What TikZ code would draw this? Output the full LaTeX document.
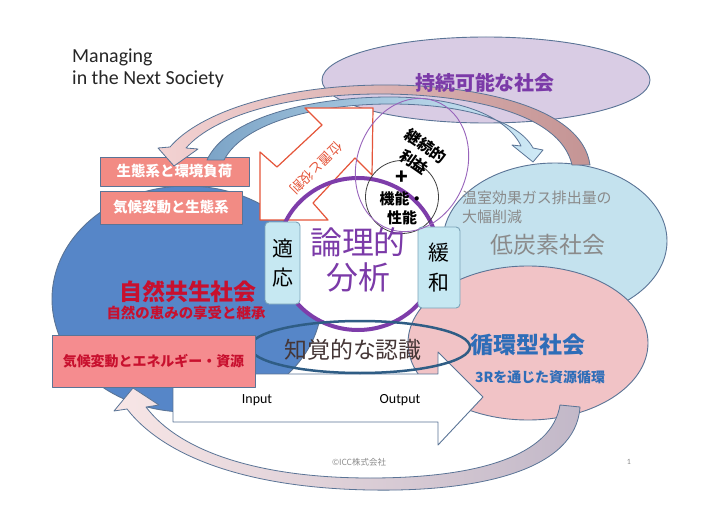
\documentclass[tikz,border=0pt]{standalone}
\usepackage{fontspec}
\setmainfont{Carlito}
\newfontfamily\jp{Noto Sans CJK JP}
\usetikzlibrary{shapes.geometric}
\definecolor{purpfill}{HTML}{D9CCE4}
\definecolor{edgeblue}{HTML}{5A7496}
\definecolor{natblue}{HTML}{5686C8}
\definecolor{lowcarb}{HTML}{C4E2EE}
\definecolor{recyc}{HTML}{F1C3C6}
\definecolor{salmon}{HTML}{F28B84}
\definecolor{boxthree}{HTML}{F58C8F}
\definecolor{deepred}{HTML}{C8102E}
\definecolor{purptext}{HTML}{7B3AA8}
\definecolor{recyctext}{HTML}{2E6DB8}
\definecolor{graytext}{HTML}{8A8A8A}
\definecolor{adapt}{HTML}{C6E8F2}
\definecolor{adaptedge}{HTML}{7BA3B8}
\definecolor{arrowred}{HTML}{E5553A}
\definecolor{circpurp}{HTML}{7E3DAA}
\definecolor{perceive}{HTML}{2F5D85}
\definecolor{pinkA}{HTML}{F3D2D2}
\definecolor{pinkB}{HTML}{C49494}
\definecolor{blueA}{HTML}{7CA4C7}
\definecolor{blueB}{HTML}{CFEAF6}
\definecolor{botA}{HTML}{F8E6E6}
\definecolor{botB}{HTML}{C2B8C8}
\definecolor{darktext}{HTML}{453636}
\begin{document}
\begin{tikzpicture}[x=1bp,y=-1bp,line join=round,
  soc/.style={ellipse,draw=edgeblue,line width=0.9bp,inner sep=0},
  salbox/.style={draw=edgeblue,line width=0.8bp,fill=salmon,inner sep=0,
     text=white,font=\jp\bfseries\fontsize{14.5}{16}\selectfont},
  tagbox/.style={draw=adaptedge,line width=0.9bp,fill=adapt,rounded corners=4bp,
     inner sep=0,align=center,font=\jp\fontsize{21}{30}\selectfont},
  band/.style={draw=edgeblue,line width=0.8bp},
  jp/.style={inner sep=0,font=\jp\fontsize{#1}{#1}\selectfont},
  jpb/.style={inner sep=0,font=\jp\bfseries\fontsize{#1}{#1}\selectfont},
  lat/.style={inner sep=0,font=\fontsize{#1}{#1}\selectfont}]
\useasboundingbox (0,0) rectangle (720,507);
\fill[white] (0,0) rectangle (720,507);

% title
\node[anchor=north west,align=left,inner sep=0,font=\fontsize{20}{21.5}\selectfont,text=black!85]
  (title) at (72,49) {Managing\\in the Next Society};

% sustainable society ellipse
\node[soc,fill=purpfill,minimum width=328bp,minimum height=86bp] (sust) at (486,80) {};

% main society ellipses
\node[soc,fill=natblue,minimum width=270bp,minimum height=226bp] (nat) at (187,299) {};
\node[soc,fill=lowcarb,minimum width=224bp,minimum height=156bp] (lowc) at (555,241) {};
\node[soc,fill=recyc,minimum width=240bp,minimum height=154bp] (recy) at (528,343) {};

% bottom curved arrow
\path[band,left color=botA,right color=botB]
  (580,407) .. controls (576,470) and (480,492) .. (370,490)
  .. controls (250,488) and (165,458) .. (127,409)
  -- (114,411) -- (133,388) -- (159,405) -- (146,407)
  .. controls (180,452) and (260,478) .. (370,478)
  .. controls (480,478) and (552,455) .. (560,405) -- cycle;

% upper pink boxes
\node[salbox,minimum width=149bp,minimum height=29bp] (eco) at (174.5,171.5) {生態系と環境負荷};
\node[salbox,minimum width=142bp,minimum height=33bp] (cce) at (171,207.5) {気候変動と生態系};

% top curved arrows
\path[band,left color=pinkA,right color=pinkB]
  (590,165) .. controls (582,105) and (470,84) .. (380,85)
  .. controls (280,86) and (200,112) .. (170,147)
  -- (158,148) -- (174,166) -- (198,149) -- (186,148)
  .. controls (215,115) and (290,94) .. (380,94)
  .. controls (465,94) and (560,112) .. (572,165) -- cycle;
\path[band,left color=blueA,right color=blueB]
  (207,160) .. controls (226,118) and (310,97) .. (390,97)
  .. controls (462,97) and (508,118) .. (521,146)
  -- (512,145) -- (533,162) -- (543,150) -- (533,148)
  .. controls (518,120) and (462,104) .. (390,104)
  .. controls (318,104) and (244,122) .. (224,160) -- cycle;

% central white circle
\node[ellipse,fill=white,minimum width=160bp,minimum height=152bp] (logicbg) at (358,254) {};

% red notched arrow
\draw[arrowred,line width=1.2bp,fill=white]
  (260,220) -- (260,152) -- (277,167) -- (322,125) -- (305,108) -- (373,108)
  -- (372,175) -- (355,158) -- (313,203) -- (328,220) -- cycle;
\node[jp=13.5,text=arrowred,rotate=225] (role) at (316,168) {位置と役割};

% purple circle stroke
\node[ellipse,draw=circpurp,line width=4bp,minimum width=160bp,minimum height=152bp] (logic) at (358,254) {};

% function circle
\node[circle,draw=black!75,line width=0.8bp,minimum size=73bp] (func) at (402,197) {};

% adaptation / mitigation boxes
\node[tagbox,minimum width=35bp,minimum height=82bp] (adp) at (282.5,263) {適\\応};
\node[tagbox,minimum width=42bp,minimum height=81bp] (mit) at (439,267.5) {緩\\和};

% input/output arrow
\draw[edgeblue,line width=0.9bp,fill=white] (173,374) -- (438,374) -- (438,352) -- (483,397)
  -- (438,445) -- (438,422) -- (173,422) -- cycle;
\node[lat=14] (in) at (257,400) {Input};
\node[lat=14] (out) at (400,400) {Output};

% perception ellipse
\node[ellipse,draw=perceive,line width=2.5bp,minimum width=220bp,minimum height=52bp] (perc) at (360,347) {};

% lower pink box
\node[draw=edgeblue,line width=0.8bp,fill=boxthree,inner sep=0,minimum width=203bp,minimum height=52bp,
  text=deepred,font=\jp\bfseries\fontsize{14}{16}\selectfont] (clim) at (153.5,361) {気候変動とエネルギー・資源};

% benefit ellipse
\node[ellipse,draw=circpurp!80,line width=0.9bp,minimum width=110bp,minimum height=136bp,rotate=-20] (benefit) at (412,165) {};

% texts
\node[jpb=20,text=purptext] (sustt) at (485,83) {持続可能な社会};
\node[rotate=-35,align=center,inner sep=0,font=\jp\bfseries\fontsize{15.5}{20}\selectfont] (bent) at (420,154) {継続的\\利益};
\node[inner sep=0,align=center,font=\jp\bfseries\fontsize{15}{19.5}\selectfont] (funct) at (402,198) {{\fontsize{21}{19.5}\selectfont +}\\機能・\\性能};
\node[inner sep=0,align=center,text=purptext,font=\jp\fontsize{32}{35}\selectfont] (logict) at (358,260) {論理的\\分析};
\node[jp=23,text=darktext] (perct) at (353,350) {知覚的な認識};
\node[jpb=23,text=deepred] (natt) at (188,292) {自然共生社会};
\node[jpb=14.5,text=deepred] (natsub) at (186,313) {自然の恵みの享受と継承};
\node[anchor=west,align=left,inner sep=0,text=graytext,font=\jp\fontsize{15}{19}\selectfont] (ghg) at (462,207) {温室効果ガス排出量の\\大幅削減};
\node[jp=23,text=graytext] (lowct) at (548,245) {低炭素社会};
\node[jpb=23,text=recyctext] (recyt) at (528,345) {循環型社会};
\node[jpb=14,text=recyctext] (recysub) at (540,377) {3Rを通じた資源循環};
\node[jp=8.5,text=graytext] (copy) at (359,462) {©ICC株式会社};
\node[lat=8,text=graytext] (page) at (629,462) {1};
\end{tikzpicture}
\end{document}
